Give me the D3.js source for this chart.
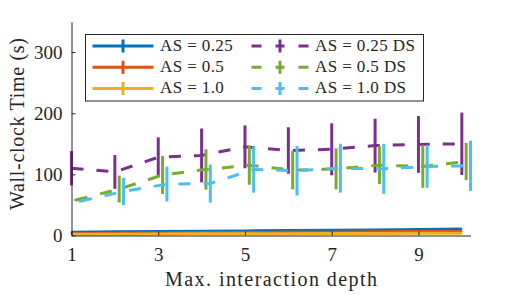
<!DOCTYPE html>
<html>
<head>
<meta charset="utf-8">
<script src="https://cdn.jsdelivr.net/npm/d3@7"></script>
<style>
html,body{margin:0;padding:0;background:#fff;}
svg{display:block;}
text{font-family:"Liberation Serif","Times New Roman",serif;fill:#262626;}
</style>
</head>
<body>
<div id="chart"></div>
<script>
// ---- data ----
const depth = [1, 2, 3, 4, 5, 6, 7, 8, 9, 10];
const xTicks = [1, 3, 5, 7, 9];
const yTicks = [0, 100, 200, 300];

const as025 = [5.5, 6, 6.5, 7, 7.5, 8, 8.5, 9, 10, 10.5];
const as05 = [3, 3.5, 4, 4.5, 5, 5.5, 5.5, 6, 6.5, 6.5];
const as10 = [2, 2.2, 2.5, 2.7, 3, 3, 3.2, 3.3, 3.5, 3.5];
const errAs025 = [0.5, 0.5, 0.5, 0.5, 0.5, 0.5, 0.5, 0.5, 0.5, 0.5];
const errAs05 = [0.4, 0.4, 0.4, 0.4, 0.4, 0.4, 0.4, 0.4, 0.4, 0.4];
const errAs10 = [0.3, 0.3, 0.3, 0.3, 0.3, 0.3, 0.3, 0.3, 0.3, 0.3];

const ds025 = [110, 104, 128, 131, 145, 139, 141, 147, 149, 150];
const ds05 = [58, 76, 99, 108, 115, 107, 109, 115, 113, 121];
const ds10 = [56, 72, 84, 85, 108, 106, 110, 109, 113, 114];
const errDs025 = [28, 27.5, 32.5, 44, 35, 38, 42.5, 44, 46.5, 51];
const errDs05 = [2, 22, 31, 33, 32, 31.5, 33.5, 31, 35, 30.5];
const errDs10 = [2, 22, 28.5, 31, 38, 40.5, 40, 41, 35, 41];

const labels = ["AS = 0.25", "AS = 0.5", "AS = 1.0", "AS = 0.25 DS", "AS = 0.5 DS", "AS = 1.0 DS"];
const colors = ["#0072BD", "#D95319", "#EDB120", "#7E2F8E", "#77AC30", "#4DBEEE"];
const offsets = [0, 0, 0, 0, 0.1, 0.2];
const dashed = [false, false, false, true, true, true];

const series = [
  {m: as025, e: errAs025}, {m: as05, e: errAs05}, {m: as10, e: errAs10},
  {m: ds025, e: errDs025}, {m: ds05, e: errDs05}, {m: ds10, e: errDs10}
].map((s, i) => ({...s, label: labels[i], color: colors[i], off: offsets[i], dash: dashed[i]}));

// ---- layout ----
const W = 520, H = 295;
const x = d3.scaleLinear().domain([1, 10.2]).range([71.5, 470.5]);
const y = d3.scaleLinear().domain([0, 350]).range([235.5, 21.5]);

const svg = d3.select("#chart").append("svg").attr("width", W).attr("height", H);
svg.append("rect").attr("width", W).attr("height", H).attr("fill", "#fff");

const plot = svg.append("g");
const line = d3.line().x(d => x(d[0])).y(d => y(d[1]));

series.forEach(s => {
  const pts = depth.map((d, i) => [d + s.off, s.m[i]]);
  plot.append("path")
    .attr("d", line(pts))
    .attr("fill", "none")
    .attr("stroke", s.color)
    .attr("stroke-width", 3)
    .attr("stroke-dasharray", s.dash ? "12,13" : null);
  plot.selectAll(null).data(depth.map((d, i) => ({x: d + s.off, lo: s.m[i] - s.e[i], hi: s.m[i] + s.e[i]})))
    .enter().append("line")
    .attr("x1", d => x(d.x)).attr("x2", d => x(d.x))
    .attr("y1", d => y(d.lo)).attr("y2", d => y(d.hi))
    .attr("stroke", s.color).attr("stroke-width", 3);
});

// ---- axes ----
const axisColor = "#262626";
const yAxis = svg.append("g").attr("transform", `translate(${x(1)},0)`)
  .call(d3.axisLeft(y).tickValues(yTicks).tickSizeInner(-4).tickSizeOuter(0).tickPadding(9));
const xAxis = svg.append("g").attr("transform", `translate(0,${y(0)})`)
  .call(d3.axisBottom(x).tickValues(xTicks).tickSizeInner(-4).tickSizeOuter(0).tickPadding(12));
[yAxis, xAxis].forEach(a => {
  a.select(".domain").attr("stroke", axisColor).attr("stroke-width", 1);
  a.selectAll(".tick line").attr("stroke", axisColor);
  a.selectAll(".tick text").attr("font-size", 19).attr("fill", axisColor);
});

svg.append("text")
  .attr("x", 271).attr("y", 286)
  .attr("text-anchor", "middle").attr("font-size", 20)
  .attr("textLength", 212).attr("lengthAdjust", "spacing")
  .text("Max. interaction depth");
svg.append("text")
  .attr("transform", "translate(24,124) rotate(-90)")
  .attr("text-anchor", "middle").attr("font-size", 20)
  .attr("textLength", 172).attr("lengthAdjust", "spacing")
  .text("Wall-clock Time (s)");

// ---- legend ----
const leg = svg.append("g");
leg.append("rect").attr("x", 85.5).attr("y", 34.5).attr("width", 338).attr("height", 66.5)
  .attr("fill", "#fff").attr("stroke", axisColor).attr("stroke-width", 1);
const rowY = [46, 67.3, 88.5];
const colX = [92.5, 251.5];
const textX = [160, 315];
series.forEach((s, i) => {
  const c = Math.floor(i / 3), r = i % 3;
  const g = leg.append("g").attr("transform", `translate(${colX[c]},${rowY[r]})`);
  g.append("line").attr("x1", 0).attr("x2", s.dash ? 57 : 61).attr("y1", 0).attr("y2", 0)
    .attr("stroke", s.color).attr("stroke-width", 3)
    .attr("stroke-dasharray", s.dash ? "10,14,9,14,10" : null);
  const cx = s.dash ? 28.5 : 30.5;
  g.append("line").attr("x1", cx).attr("x2", cx).attr("y1", -6.5).attr("y2", 6.5)
    .attr("stroke", s.color).attr("stroke-width", 3);
  leg.append("text").attr("x", textX[c]).attr("y", rowY[r] + 4.8)
    .attr("font-size", 17).attr("letter-spacing", 0.4).text(s.label);
});
</script>
</body>
</html>
